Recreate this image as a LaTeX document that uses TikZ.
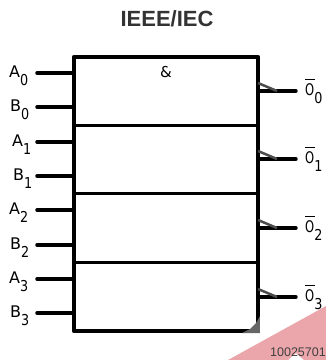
\documentclass[tikz,border=0pt]{standalone}
\usepackage{fontspec}
\setmainfont{Liberation Sans}
\setsansfont{DejaVu Sans}
\definecolor{wmark}{RGB}{235,166,171}
\newcommand{\pinsub}[1]{\raisebox{-8pt}{\fontsize{15}{15}\selectfont\scalebox{.85}[1]{#1}}}
\newcommand{\barO}{\rlap{\rule[15.5pt]{9.5pt}{1pt}}\scalebox{.72}[1]{O}}
\tikzset{
  frame/.style={line width=4.2pt,line cap=round,line join=round},
  divider/.style={line width=3pt},
  pin/.style={line width=3.5pt,line cap=round},
  wedge/.style={line width=2.5pt,draw=black!70},
  pinlabel/.style={font=\sffamily\fontsize{16}{18}\selectfont,inner sep=0pt},
}
\begin{document}
\begin{tikzpicture}[x=1pt,y=-1pt]
  \useasboundingbox (0,0) rectangle (326,360);
  \fill[wmark] (326,306)--(228,360)--(288,360)--(296,353)--(304,360)--(326,360)--cycle;
  \node[font=\bfseries\fontsize{22}{24}\selectfont,text=black!80] (title) at (167,19) {IEEE/IEC};
  \coordinate (NW) at (74,57);
  \coordinate (NE) at (258,57);
  \coordinate (SE) at (258,331);
  \coordinate (SW) at (74,331);
  \draw[frame] (NW)--(NE)--(SE)--(SW)--cycle;
  \fill[black!60] (242,333)--(260,333)--(260,316)--(256,323)--(250,329)--cycle;
  \foreach \n/\y in {1/125, 2/193, 3/262}{
    \coordinate (DL\n) at (74,\y);
    \coordinate (DR\n) at (258,\y);
    \draw[divider] (DL\n)--(DR\n);
  }
  \node[font=\sffamily\fontsize{15}{17}\selectfont] (amp) at (166,72) {\&};
  \foreach \n/\y in {0/73, 1/107, 2/142, 3/176, 4/210, 5/245, 6/279, 7/313}{
    \coordinate (P\n) at (37,\y);
    \coordinate (Q\n) at (74,\y);
    \draw[pin] (P\n)--(Q\n);
  }
  \foreach \n/\t/\s/\x in {0/A/0/9, 1/B/0/10, 2/A/1/12, 3/B/1/13, 4/A/2/9, 5/B/2/10, 6/A/3/9, 7/B/3/10}{
    \node[pinlabel,anchor=base west] (L\n) at ([yshift=-4.5pt]\x,0 |- P\n) {\t\pinsub{\s}};
  }
  \foreach \n/\y in {0/91, 1/159, 2/228, 3/297}{
    \coordinate (R\n) at (258,\y);
    \coordinate (T\n) at (296,\y);
    \coordinate (W\n) at (258,\y-8);
    \coordinate (K\n) at (277,\y);
    \draw[pin] (R\n)--(T\n);
    \draw[wedge] (W\n)--(K\n);
    \node[pinlabel,anchor=base west] (O\n) at ([yshift=-4pt]305,\y) {\barO\pinsub{\n}};
  }
  \node[font=\fontsize{12.5}{14}\selectfont,text=black!75,anchor=east,inner sep=0pt] (code) at (326,352) {10025701};
\end{tikzpicture}
\end{document}
